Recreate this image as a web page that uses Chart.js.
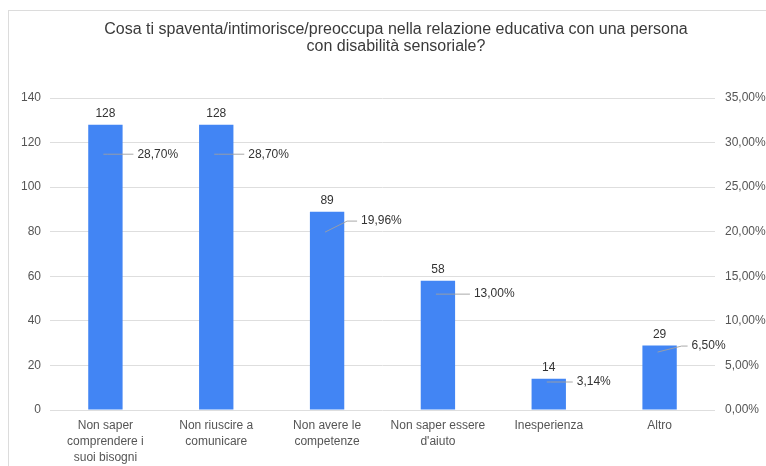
<!DOCTYPE html>
<html>
<head>
<meta charset="utf-8">
<script src="https://cdn.jsdelivr.net/npm/chart.js@4/dist/chart.umd.min.js"></script>
<style>
  html, body { margin: 0; padding: 0; background: #fff; }
  #wrap { width: 766px; height: 466px; }
</style>
</head>
<body>
<div id="wrap"><canvas id="grafico"></canvas></div>
<script>
// ========================
// Dati
// ========================
const categorie = [
  ["Non saper", "comprendere i", "suoi bisogni"],
  ["Non riuscire a", "comunicare"],
  ["Non avere le", "competenze"],
  ["Non saper essere", "d'aiuto"],
  "Inesperienza",
  "Altro"
];
const risposte = [128, 128, 89, 58, 14, 29];
const percentuali = [28.70, 28.70, 19.96, 13.00, 3.14, 6.50];
const tickSinistra = [0, 20, 40, 60, 80, 100, 120, 140];
const tickDestra = [0, 5, 10, 15, 20, 25, 30, 35];

const titolo = [
  "Cosa ti spaventa/intimorisce/preoccupa nella relazione educativa con una persona",
  "con disabilità sensoriale?"
];

const FONT = "'Liberation Sans', Arial, sans-serif";
const formatoPerc = v => v.toFixed(2).replace(".", ",") + "%";

// ========================
// Cornice + etichette
// ========================
const cornice = {
  id: "cornice",
  beforeDraw(chart) {
    const ctx = chart.ctx;
    ctx.save();
    ctx.fillStyle = "#fff";
    ctx.fillRect(0, 0, chart.width, chart.height);
    ctx.strokeStyle = "#dcdcdc";
    ctx.lineWidth = 1;
    ctx.strokeRect(8.5, 10.5, chart.width + 20, chart.height + 20);
    ctx.restore();
  }
};

// valori sopra le barre
const valoriBarre = {
  id: "valoriBarre",
  afterDatasetsDraw(chart) {
    const ctx = chart.ctx;
    const meta = chart.getDatasetMeta(0);
    ctx.save();
    ctx.font = "12px " + FONT;
    ctx.fillStyle = "#333";
    ctx.textAlign = "center";
    ctx.textBaseline = "bottom";
    meta.data.forEach((bar, i) => {
      ctx.fillText(risposte[i], bar.x, bar.y - 5);
    });
    ctx.restore();
  }
};

// percentuali con linea guida
const etichettePerc = {
  id: "etichettePerc",
  afterDatasetsDraw(chart, args, opts) {
    const ctx = chart.ctx;
    const meta = chart.getDatasetMeta(1);
    ctx.save();
    ctx.font = "12px " + FONT;
    ctx.textBaseline = "middle";
    meta.data.forEach((pt, i) => {
      const g = opts.guide[i];
      const x0 = pt.x - 2, y0 = pt.y;
      const x1 = pt.x + g[0], y1 = pt.y + g[1];
      const x2 = pt.x + g[2];
      ctx.strokeStyle = "rgba(160,160,160,0.9)";
      ctx.lineWidth = 1;
      ctx.beginPath();
      ctx.moveTo(x0, y0);
      ctx.lineTo(x1, y1);
      ctx.lineTo(x2, y1);
      ctx.stroke();
      ctx.fillStyle = "#333";
      ctx.fillText(formatoPerc(percentuali[i]), x2 + 4, y1);
    });
    ctx.restore();
  }
};

const ctx = document.getElementById("grafico").getContext("2d");
new Chart(ctx, {
  data: {
    labels: categorie,
    datasets: [
      {
        type: "bar",
        label: "Risposte",
        data: risposte,
        yAxisID: "y",
        backgroundColor: "#4285F4",
        barPercentage: 0.31,
        categoryPercentage: 1,
        order: 2
      },
      {
        type: "line",
        label: "Percentuale",
        data: percentuali,
        yAxisID: "y1",
        showLine: false,
        pointRadius: 0,
        order: 1
      }
    ]
  },
  options: {
    responsive: true,
    maintainAspectRatio: false,
    animation: false,
    // titolo centrato un po' a destra: spazio extra a destra fuori dal canvas
    layout: { padding: { left: 0, right: -26, top: 0, bottom: 0 } },
    plugins: {
      legend: { display: false },
      tooltip: { enabled: false },
      title: {
        display: true,
        text: titolo,
        color: "#3a3a3a",
        font: { family: FONT, size: 16, weight: "normal", lineHeight: 1.08 },
        padding: { top: 21, bottom: 42.5 }
      },
      etichettePerc: {
        // [dx fine obliqua, dy, dx fine linea]
        guide: [
          [2, 0, 28],
          [2, 0, 28],
          [20, -11, 30],
          [2, 0, 32],
          [2, 0, 24],
          [22, -6, 28]
        ]
      }
    },
    scales: {
      x: {
        grid: { display: false, drawTicks: false },
        border: { display: false },
        afterFit: s => { s.height = 56; },
        ticks: {
          autoSkip: false,
          maxRotation: 0,
          padding: 8,
          color: "#555",
          font: { family: FONT, size: 12, lineHeight: 1.333 }
        }
      },
      y: {
        position: "left",
        min: 0,
        max: 140,
        afterFit: s => { s.width = 50; },
        afterBuildTicks: s => { s.ticks = tickSinistra.map(v => ({ value: v })); },
        grid: { color: "#dedede", drawTicks: false },
        border: { display: false },
        ticks: {
          padding: 9,
          color: "#555",
          font: { family: FONT, size: 12 }
        }
      },
      y1: {
        position: "right",
        min: 0,
        max: 35,
        afterFit: s => { s.width = 77; },
        afterBuildTicks: s => { s.ticks = tickDestra.map(v => ({ value: v })); },
        grid: { display: false, drawTicks: false },
        border: { display: false },
        ticks: {
          padding: 10,
          color: "#555",
          font: { family: FONT, size: 12 },
          callback: v => formatoPerc(v)
        }
      }
    }
  },
  plugins: [cornice, valoriBarre, etichettePerc]
});
</script>
</body>
</html>
